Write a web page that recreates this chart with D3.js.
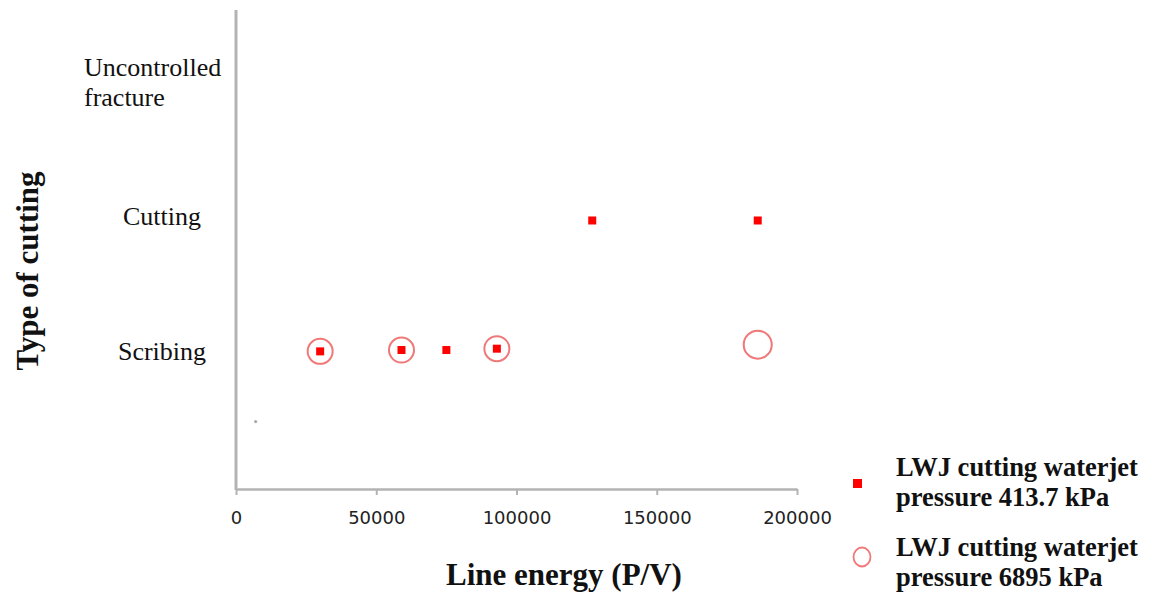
<!DOCTYPE html>
<html>
<head>
<meta charset="utf-8">
<script src="https://cdn.jsdelivr.net/npm/d3@7"></script>
<style>
  html, body { margin: 0; padding: 0; background: #fff; }
  svg { display: block; }
</style>
</head>
<body>
<svg id="chart" width="1154" height="592"></svg>
<script>
// Line energy (P/V) for each run, and the cutting type reached (1 = scribing, 2 = cutting, 3 = uncontrolled fracture)
const lowPressureEnergy  = [30000, 59000, 75000, 93000, 127000, 186000];
const lowPressureType    = [1.02, 1.03, 1.03, 1.04, 1.99, 1.99];
const highPressureEnergy = [30000, 59000, 93000, 186000];
const highPressureType   = [1.02, 1.03, 1.04, 1.07];
const strayEnergy = [7000];
const strayType   = [0.5];

const categoryLabels = [
  { value: 1, lines: ["Scribing"] },
  { value: 2, lines: ["Cutting"] },
  { value: 3, lines: ["Uncontrolled", "fracture"] }
];
const xTicks = [0, 50000, 100000, 150000, 200000];
const legendLabels = [
  ["LWJ cutting waterjet", "pressure 413.7 kPa"],
  ["LWJ cutting waterjet", "pressure 6895 kPa"]
];

const svg = d3.select("#chart");
const margin = { left: 236, right: 797, top: 10, bottom: 489 };

const x = d3.scaleLinear().domain([0, 200000]).range([margin.left, margin.right]);
const y = d3.scaleLinear().domain([0, 3.55]).range([margin.bottom, margin.top]);

const axisColor = "#b3b3b3";
const serif = "Liberation Serif, Times New Roman, serif";

// x axis
const xAxis = svg.append("g")
  .attr("transform", `translate(0,${margin.bottom})`)
  .call(d3.axisBottom(x).tickValues(xTicks).tickSize(6).tickSizeOuter(0).tickFormat(d3.format("d")));
xAxis.select(".domain").attr("stroke", axisColor).attr("stroke-width", 2.5);
xAxis.selectAll(".tick line").attr("stroke", axisColor).attr("stroke-width", 2);
xAxis.selectAll(".tick text")
  .attr("font-family", "DejaVu Sans, sans-serif")
  .attr("font-size", 18)
  .attr("fill", "#222")
  .attr("dy", "1.45em");

// y axis line only
svg.append("line")
  .attr("x1", margin.left).attr("x2", margin.left)
  .attr("y1", margin.top).attr("y2", margin.bottom + 1)
  .attr("stroke", axisColor).attr("stroke-width", 3);

// category labels
const catG = svg.append("g")
  .attr("font-family", serif)
  .attr("font-size", 26)
  .attr("fill", "#111");
categoryLabels.forEach(c => {
  const cy = y(c.value);
  if (c.lines.length === 1) {
    catG.append("text")
      .attr("x", 162).attr("y", cy - 3)
      .attr("text-anchor", "middle").attr("dy", "0.35em")
      .text(c.lines[0]);
  } else {
    c.lines.forEach((l, i) => {
      catG.append("text")
        .attr("x", 84).attr("y", cy + (i - 0.5) * 30 - 2)
        .attr("dy", "0.35em")
        .text(l);
    });
  }
});

// axis titles
svg.append("text")
  .attr("x", 564)
  .attr("y", 585)
  .attr("text-anchor", "middle")
  .attr("font-family", serif)
  .attr("font-weight", "bold")
  .attr("font-size", 31)
  .attr("fill", "#111")
  .text("Line energy (P/V)");

svg.append("text")
  .attr("transform", "translate(38,271) rotate(-90)")
  .attr("text-anchor", "middle")
  .attr("font-family", serif)
  .attr("font-weight", "bold")
  .attr("font-size", 31)
  .attr("fill", "#111")
  .text("Type of cutting");

// stray faint mark
svg.append("g").selectAll("circle")
  .data(d3.zip(strayEnergy, strayType))
  .join("circle")
  .attr("cx", d => x(d[0])).attr("cy", d => y(d[1]))
  .attr("r", 1.6).attr("fill", "#aaa");

// high-pressure series: open circles
const circleColor = "#f07878";
svg.append("g").selectAll("circle")
  .data(d3.zip(highPressureEnergy, highPressureType))
  .join("circle")
  .attr("cx", d => x(d[0])).attr("cy", d => y(d[1]))
  .attr("r", (d, i) => i === highPressureEnergy.length - 1 ? 14 : 12.5)
  .attr("fill", "none")
  .attr("stroke", circleColor)
  .attr("stroke-width", 2);

// low-pressure series: filled squares
const sq = 8;
svg.append("g").selectAll("rect")
  .data(d3.zip(lowPressureEnergy, lowPressureType))
  .join("rect")
  .attr("x", d => x(d[0]) - sq / 2).attr("y", d => y(d[1]) - sq / 2)
  .attr("width", sq).attr("height", sq)
  .attr("fill", "#f00");

// legend
const legend = svg.append("g")
  .attr("font-family", serif)
  .attr("font-weight", "bold")
  .attr("font-size", 26.5)
  .attr("fill", "#111");
legend.append("rect")
  .attr("x", 853).attr("y", 479).attr("width", 9).attr("height", 9)
  .attr("fill", "#f00");
legend.append("ellipse")
  .attr("cx", 862).attr("cy", 557).attr("rx", 8.5).attr("ry", 9.5)
  .attr("fill", "none").attr("stroke", circleColor).attr("stroke-width", 1.8);
const legendY = [467, 547];
legendLabels.forEach((lines, k) => {
  lines.forEach((l, i) => {
    legend.append("text")
      .attr("x", 896).attr("y", legendY[k] + i * 30)
      .attr("dy", "0.35em")
      .text(l);
  });
});
</script>
</body>
</html>
